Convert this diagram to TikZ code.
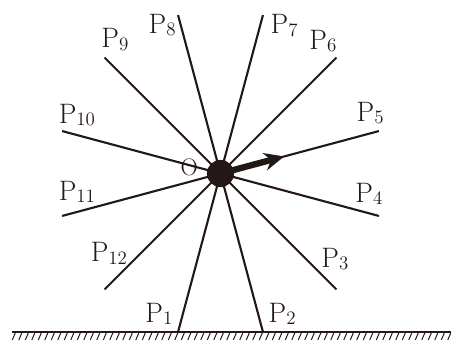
\documentclass[tikz,border=0pt]{standalone}
\usetikzlibrary{arrows.meta}
\definecolor{ink}{RGB}{35,24,21}
\newcommand{\plabel}[1]{P\raisebox{-0.07cm}{\fontsize{13.5}{15}\selectfont #1}}
\tikzset{
  ray/.style={draw=ink,line width=1.5pt},
  lbl/.style={text=ink,font=\fontsize{20}{24}\selectfont,inner sep=0pt},
  olbl/.style={text=ink,font=\fontsize{17}{20}\selectfont,inner sep=0pt},
  ball/.style={circle,fill=ink,minimum size=0.68cm,inner sep=0pt},
  force/.style={draw=ink,line width=4.5pt,-{Stealth[length=5mm,width=4.4mm]}},
  gnd/.style={draw=ink,line width=1.4pt},
  hatch/.style={draw=ink,line width=0.7pt}
}

\begin{document}
\begin{tikzpicture}
  \useasboundingbox (-5.5125,-4.3375) rectangle (5.7625,4.3375);
  \coordinate (O) at (0,0);

  % Rays O -> P_i
  \foreach \i in {1,...,12}{
    \pgfmathsetmacro{\ang}{225+30*\i}
    \coordinate (p\i) at (\ang:4.1);
    \draw[ray] (O) -- (p\i);
  }

  % Labels
  \foreach \i/\x/\y in {1/-1.54/-3.51, 2/1.54/-3.51, 3/2.86/-2.14, 4/3.71/-0.51,
                        5/3.74/1.51, 6/2.56/3.31, 7/1.59/3.69, 8/-1.46/3.71,
                        9/-2.64/3.34, 10/-3.59/1.46, 11/-3.59/-0.46, 12/-2.79/-1.99}
    \node[lbl] (lp\i) at (\x,\y) {\plabel{\i}};

  % Ball and force
  \coordinate (tip) at (15:1.65);
  \draw[force] (O) -- (tip);
  \node[ball] (ball) at (O) {};
  \node[olbl] (lo) at (-0.78,0.15) {O};

  % Ground
  \coordinate (gl) at (-5.2125,-3.9625);
  \coordinate (gr) at (5.7625,-3.9625);
  \draw[gnd] (gl) -- (gr);
  \foreach \x in {-5.12,-4.9575,...,5.8}
    \draw[hatch] (\x,-3.9625) -- ++(-0.085,-0.2);
\end{tikzpicture}
\end{document}
